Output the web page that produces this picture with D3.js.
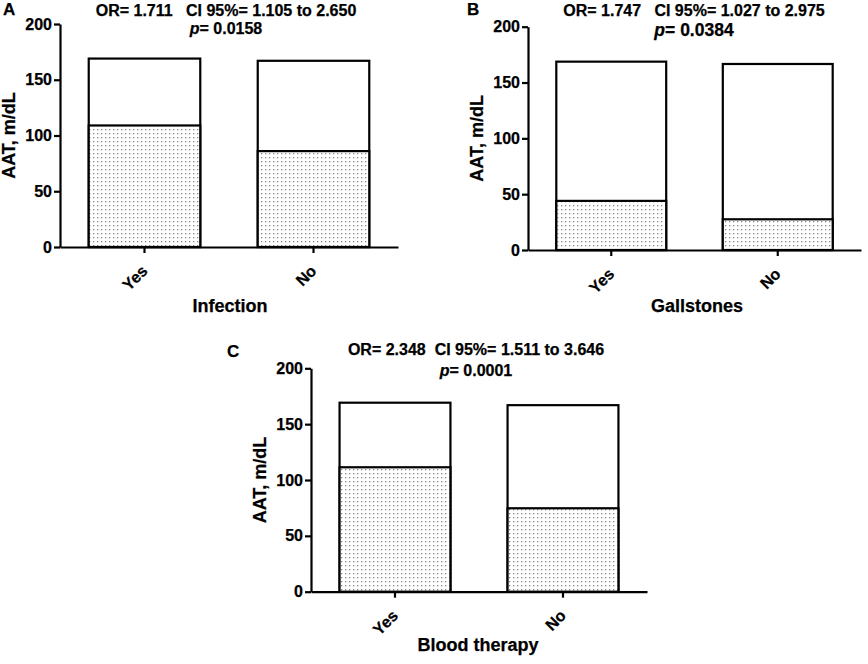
<!DOCTYPE html>
<html>
<head>
<meta charset="utf-8">
<script src="https://cdn.jsdelivr.net/npm/d3@7"></script>
<style>
  body { margin: 0; background: #fff; }
  svg { display: block; font-family: "Liberation Sans", Arial, sans-serif; font-weight: bold; }
  text { white-space: pre; stroke: #000; stroke-width: 0.25px; }
</style>
</head>
<body>
<svg id="chart" width="868" height="664"></svg>
<script>
// Data
const categories = ["Yes", "No"];
const yTicks = [0, 50, 100, 150, 200];

const infectionTotal = [169, 167];
const infectionLower = [109, 86];

const gallstonesTotal = [168.7, 166.6];
const gallstonesLower = [44, 27.5];

const bloodTotal = [169.2, 167];
const bloodLower = [111.4, 74.7];

const panelLetters = ["A", "B", "C"];
const panelTitles = [
    "OR= 1.711   CI 95%= 1.105 to 2.650",
    "OR= 1.747   CI 95%= 1.027 to 2.975",
    "OR= 2.348  CI 95%= 1.511 to 3.646"
];
const panelP = ["0.0158", "0.0384", "0.0001"];
const xLabels = ["Infection", "Gallstones", "Blood therapy"];

// Layout of each panel (axis frame in page pixels)
const panels = [
    { total: infectionTotal, lower: infectionLower, left: 60, right: 398, top: 24, bottom: 247, pSize: 16 },
    { total: gallstonesTotal, lower: gallstonesLower, left: 528, right: 861, top: 26.7, bottom: 250, pSize: 17.5 },
    { total: bloodTotal, lower: bloodLower, left: 311, right: 647, top: 368.3, bottom: 591.7, pSize: 16 }
];
const letterPos = [[3, 15], [467, 15], [227, 357]];
const titlePos = [[226, 16, 34], [694, 16, 36], [476, 355, 376]];
const xLabelPos = [[230, 312], [697, 312], [478, 651]];

const svg = d3.select("#chart");

// Dotted fill for the lower part of each bar
const pattern = svg.append("defs").append("pattern")
    .attr("id", "dots")
    .attr("patternUnits", "userSpaceOnUse")
    .attr("width", 4)
    .attr("height", 4);
pattern.append("rect").attr("width", 4).attr("height", 4).attr("fill", "#fff");
pattern.append("rect").attr("x", 1).attr("y", 1).attr("width", 1.3).attr("height", 1.3).attr("fill", "#888");

panels.forEach((p, i) => {
    const g = svg.append("g");

    const x = d3.scaleBand()
        .domain(categories)
        .range([p.left, p.right])
        .paddingInner(0.34)
        .paddingOuter(0.17);

    const y = d3.scaleLinear()
        .domain([0, 200])
        .range([p.bottom, p.top]);

    // Upper (white) part = full bar
    g.selectAll(".bar-total")
        .data(categories)
        .enter()
        .append("rect")
        .attr("x", (d) => x(d))
        .attr("y", (d, j) => y(p.total[j]))
        .attr("width", x.bandwidth())
        .attr("height", (d, j) => y(0) - y(p.total[j]))
        .attr("fill", "#fff")
        .attr("stroke", "#000")
        .attr("stroke-width", 2.2);

    // Lower dotted part
    g.selectAll(".bar-lower")
        .data(categories)
        .enter()
        .append("rect")
        .attr("x", (d) => x(d))
        .attr("y", (d, j) => y(p.lower[j]))
        .attr("width", x.bandwidth())
        .attr("height", (d, j) => y(0) - y(p.lower[j]))
        .attr("fill", "url(#dots)")
        .attr("stroke", "#000")
        .attr("stroke-width", 2.2);

    // Y axis
    const yAxis = g.append("g")
        .attr("transform", `translate(${p.left},0)`)
        .call(d3.axisLeft(y).tickValues(yTicks).tickSize(6).tickSizeOuter(0).tickPadding(2));

    // X axis
    const xAxis = g.append("g")
        .attr("transform", `translate(0,${p.bottom})`)
        .call(d3.axisBottom(x).tickSize(6).tickSizeOuter(0));

    [yAxis, xAxis].forEach((ax) => {
        ax.select(".domain").attr("stroke-width", 2.2);
        ax.selectAll(".tick line").attr("stroke-width", 2.2);
        ax.selectAll("text")
            .attr("font-family", "'Liberation Sans', Arial, sans-serif")
            .attr("font-weight", "bold")
            .attr("font-size", 16)
            .attr("fill", "#000");
    });

    xAxis.selectAll(".tick text")
        .attr("text-anchor", "end")
        .attr("y", 0)
        .attr("dy", 0)
        .attr("transform", "translate(4,25) rotate(-45)");

    // Y axis label
    g.append("text")
        .attr("transform", `translate(${p.left - 45},${(p.top + p.bottom) / 2}) rotate(-90)`)
        .attr("text-anchor", "middle")
        .attr("font-size", 18)
        .text("AAT, m/dL");

    // X axis label
    g.append("text")
        .attr("x", xLabelPos[i][0])
        .attr("y", xLabelPos[i][1])
        .attr("text-anchor", "middle")
        .attr("font-size", 18)
        .text(xLabels[i]);

    // Panel letter
    g.append("text")
        .attr("x", letterPos[i][0])
        .attr("y", letterPos[i][1])
        .attr("font-size", 17)
        .text(panelLetters[i]);

    // Statistics header
    g.append("text")
        .attr("x", titlePos[i][0])
        .attr("y", titlePos[i][1])
        .attr("text-anchor", "middle")
        .attr("font-size", 16)
        .text(panelTitles[i]);

    const pLine = g.append("text")
        .attr("x", titlePos[i][0])
        .attr("y", titlePos[i][2])
        .attr("text-anchor", "middle")
        .attr("font-size", p.pSize);
    pLine.append("tspan").attr("font-style", "italic").text("p");
    pLine.append("tspan").text("= " + panelP[i]);
});
</script>
</body>
</html>
